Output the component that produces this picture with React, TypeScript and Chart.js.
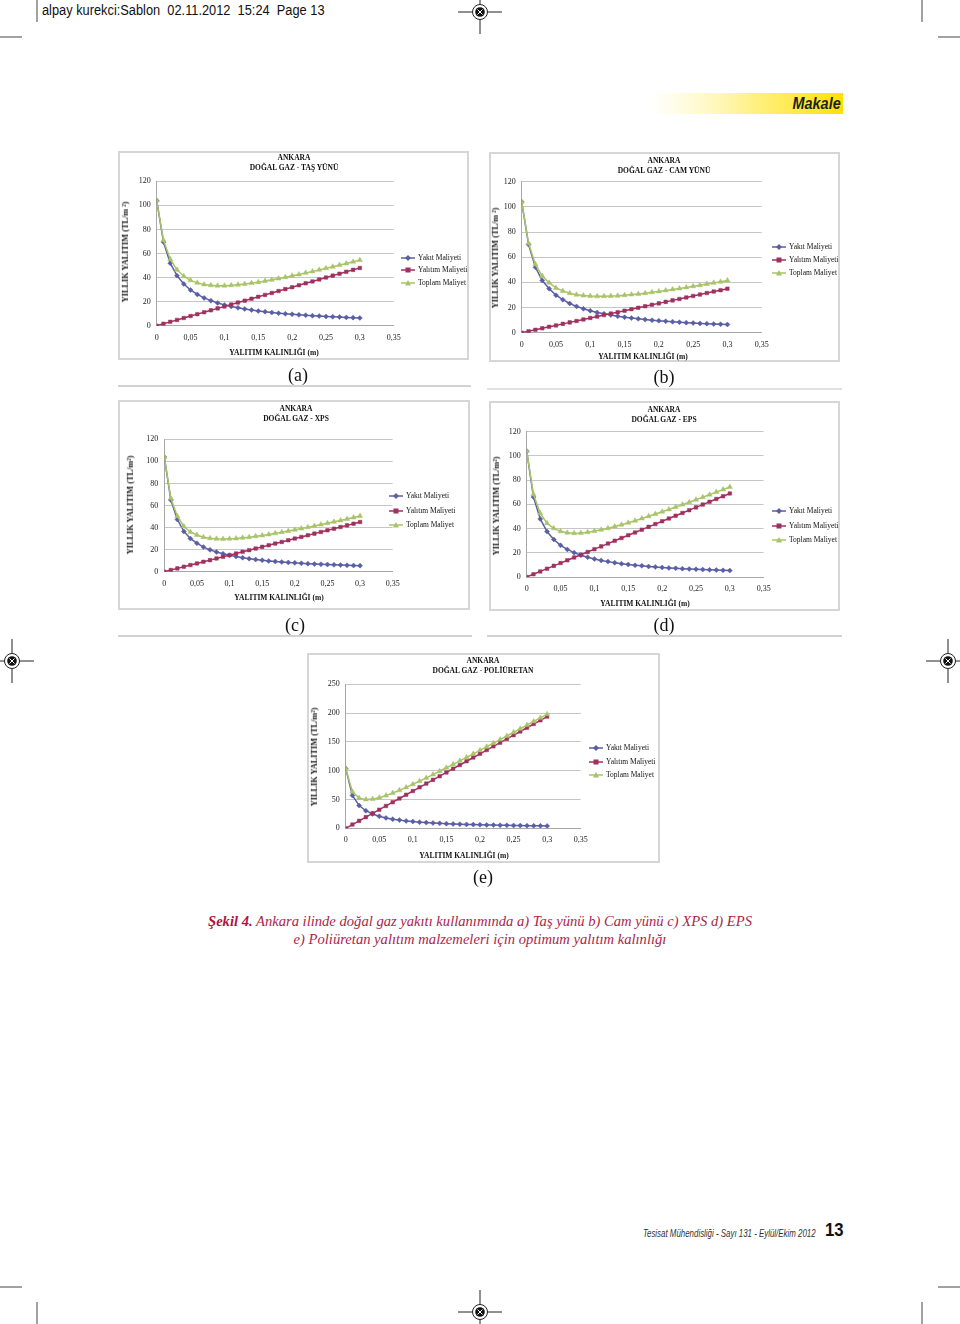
import React, { useEffect, useRef } from "react";
import { Chart, registerables } from "chart.js";
Chart.register(...registerables);

// ---------- DATA ----------
const thickness = [0, 0.01, 0.02, 0.03, 0.04, 0.05, 0.06, 0.07, 0.08, 0.09, 0.1, 0.11, 0.12, 0.13, 0.14, 0.15, 0.16, 0.17, 0.18, 0.19, 0.2, 0.21, 0.22, 0.23, 0.24, 0.25, 0.26, 0.27, 0.28, 0.29, 0.3];
const xTickValues = [0, 0.05, 0.1, 0.15, 0.2, 0.25, 0.3, 0.35];
const xTickLabels = ["0", "0,05", "0,1", "0,15", "0,2", "0,25", "0,3", "0,35"];
const yTicks120 = [0, 20, 40, 60, 80, 100, 120];
const yTicks250 = [0, 50, 100, 150, 200, 250];
const seriesNames = ["Yakıt Maliyeti", "Yalıtım Maliyeti", "Toplam Maliyet"];

// (a) Taş yünü
const aYakit = [104, 69.5, 52, 41.6, 34.7, 29.7, 26, 23.1, 20.8, 18.9, 17.3, 16, 14.9, 13.9, 13, 12.2, 11.6, 10.9, 10.4, 9.9, 9.5, 9, 8.7, 8.3, 8, 7.7, 7.4, 7.2, 6.9, 6.7, 6.5];
const aYalitim = [0, 1.6, 3.2, 4.8, 6.4, 8, 9.6, 11.2, 12.8, 14.4, 16, 17.6, 19.2, 20.8, 22.4, 24, 25.6, 27.2, 28.8, 30.4, 32, 33.6, 35.2, 36.8, 38.4, 40, 41.6, 43.2, 44.8, 46.4, 48];
const aToplam = [104, 71.1, 55.2, 46.4, 41.1, 37.7, 35.6, 34.3, 33.6, 33.3, 33.3, 33.6, 34.1, 34.7, 35.4, 36.2, 37.2, 38.1, 39.2, 40.3, 41.5, 42.6, 43.9, 45.1, 46.4, 47.7, 49, 50.4, 51.7, 53.1, 54.5];
// (b) Cam yünü
const bYakit = [104, 70, 52, 41.5, 35, 29.8, 26.2, 23.2, 20.9, 19, 17.4, 16.1, 15, 14, 13.1, 12.3, 11.6, 11, 10.4, 9.9, 9.5, 9.1, 8.7, 8.3, 8, 7.7, 7.4, 7.2, 6.9, 6.7, 6.5];
const bYalitim = [0, 1.2, 2.3, 3.5, 4.7, 5.8, 7, 8.2, 9.3, 10.5, 11.7, 12.8, 14, 15.2, 16.3, 17.5, 18.7, 19.8, 21, 22.2, 23.3, 24.5, 25.7, 26.8, 28, 29.2, 30.3, 31.5, 32.7, 33.8, 35];
const bToplam = [104, 71.2, 54.3, 45, 39.7, 35.6, 33.2, 31.4, 30.2, 29.5, 29.1, 28.9, 29, 29.2, 29.4, 29.8, 30.3, 30.8, 31.4, 32.1, 32.8, 33.6, 34.4, 35.1, 36, 36.9, 37.7, 38.7, 39.6, 40.5, 41.5];
// (c) XPS
const cYakit = [104, 65, 47.3, 36.5, 30, 25.8, 22.3, 19.8, 17.8, 16.2, 14.9, 13.7, 12.7, 11.8, 11.1, 10.4, 9.8, 9.3, 8.8, 8.4, 8, 7.6, 7.3, 7, 6.7, 6.5, 6.2, 6, 5.8, 5.6, 5.5];
const cYalitim = [0, 1.5, 3, 4.5, 6, 7.5, 9, 10.5, 12, 13.5, 15, 16.5, 18, 19.5, 21, 22.5, 24, 25.5, 27, 28.5, 30, 31.5, 33, 34.5, 36, 37.5, 39, 40.5, 42, 43.5, 45];
const cToplam = [104, 66.5, 50.3, 41, 36, 33.3, 31.3, 30.3, 29.8, 29.7, 29.9, 30.2, 30.7, 31.3, 32.1, 32.9, 33.8, 34.8, 35.8, 36.9, 38, 39.1, 40.3, 41.5, 42.7, 44, 45.2, 46.5, 47.8, 49.1, 50.5];
// (d) EPS
const dYakit = [104, 66, 48, 37.5, 31, 26.2, 22.8, 20.1, 18, 16.3, 14.9, 13.7, 12.7, 11.8, 11, 10.3, 9.7, 9.2, 8.7, 8.3, 7.9, 7.5, 7.2, 6.9, 6.6, 6.4, 6.1, 5.9, 5.7, 5.5, 5.3];
const dYalitim = [0, 2.3, 4.6, 6.9, 9.2, 11.5, 13.8, 16.1, 18.4, 20.7, 23, 25.3, 27.6, 29.9, 32.2, 34.5, 36.8, 39.1, 41.4, 43.7, 46, 48.3, 50.6, 52.9, 55.2, 57.5, 59.8, 62.1, 64.4, 66.7, 69];
const dToplam = [104, 68.3, 52.6, 44.4, 40.2, 37.7, 36.6, 36.2, 36.4, 37, 37.9, 39, 40.3, 41.7, 43.2, 44.8, 46.5, 48.3, 50.1, 52, 53.9, 55.8, 57.8, 59.8, 61.8, 63.9, 65.9, 68, 70.1, 72.2, 74.3];
// (e) Poliüretan
const eYakit = [104, 57, 39.5, 30.5, 24.8, 20.9, 18, 15.9, 14.2, 12.8, 11.7, 10.7, 9.9, 9.2, 8.6, 8.1, 7.6, 7.2, 6.8, 6.4, 6.1, 5.8, 5.6, 5.3, 5.1, 4.9, 4.7, 4.6, 4.4, 4.3, 4.1];
const eYalitim = [0, 6.5, 12.9, 19.4, 25.9, 32.3, 38.8, 45.3, 51.7, 58.2, 64.7, 71.1, 77.6, 84.1, 90.5, 97, 103.5, 109.9, 116.4, 122.9, 129.3, 135.8, 142.3, 148.7, 155.2, 161.7, 168.1, 174.6, 181.1, 187.5, 194];
const eToplam = [104, 63.5, 52.4, 49.9, 50.7, 53.2, 56.8, 61.2, 65.9, 71, 76.4, 81.8, 87.5, 93.3, 99.1, 105.1, 111.1, 117.1, 123.2, 129.3, 135.4, 141.6, 147.9, 154, 160.3, 166.6, 172.8, 179.2, 185.5, 191.8, 198.1];

// ---------- STYLE / LAYOUT ----------
const COLORS = ["#5a5ea5", "#a0305f", "#a9c468"];
const POINT_STYLES = ["rectRot", "rect", "triangle"];
const SERIF = "'Liberation Serif', 'Times New Roman', serif";
const SANS = "'Liberation Sans', Arial, Helvetica, sans-serif";

const panels = [
  { key: "a", title: "DOĞAL GAZ - TAŞ YÜNÜ", data: [aYakit, aYalitim, aToplam], yTicks: yTicks120, yTitle: "YILLIK YALITIM (TL/m ²)",
    box: [118, 151, 351, 209], plot: [156.7, 393.7, 181.3, 325.7], titleC: [294, 158], yTitleC: [126, 252], xTitleC: [274, 353], legend: [401, 257.5, 12.5], label: [298, 375] },
  { key: "b", title: "DOĞAL GAZ - CAM YÜNÜ", data: [bYakit, bYalitim, bToplam], yTicks: yTicks120, yTitle: "YILLIK YALITIM (TL/m ²)",
    box: [489, 152, 351, 210], plot: [521.7, 761.7, 181.7, 332.7], titleC: [664, 161], yTitleC: [496, 258], xTitleC: [643, 357], legend: [772, 247, 13], label: [664, 377] },
  { key: "c", title: "DOĞAL GAZ - XPS", data: [cYakit, cYalitim, cToplam], yTicks: yTicks120, yTitle: "YILLIK YALITIM (TL/m²)",
    box: [118, 400, 352, 210], plot: [164.3, 392.7, 439.3, 571.7], titleC: [296, 409], yTitleC: [131, 505], xTitleC: [279, 598], legend: [389, 496, 14.5], label: [295, 625] },
  { key: "d", title: "DOĞAL GAZ - EPS", data: [dYakit, dYalitim, dToplam], yTicks: yTicks120, yTitle: "YILLIK YALITIM (TL/m²)",
    box: [489, 401, 351, 210], plot: [526.7, 763.7, 431.7, 577], titleC: [664, 409.5], yTitleC: [497, 506], xTitleC: [645, 604], legend: [772, 511, 14.5], label: [664, 625] },
  { key: "e", title: "DOĞAL GAZ - POLİÜRETAN", data: [eYakit, eYalitim, eToplam], yTicks: yTicks250, yTitle: "YILLIK YALITIM (TL/m²)",
    box: [307, 653, 353, 210], plot: [345.7, 580.7, 684.3, 828.3], titleC: [483, 661], yTitleC: [315, 757], xTitleC: [464, 856], legend: [589, 748, 13.5], label: [483, 877] },
];

const abs = (x: number, y: number, extra: any = {}) => ({ position: "absolute" as const, left: x, top: y, ...extra });
const centered = (x: number, y: number, extra: any = {}) => ({
  position: "absolute" as const, left: x, top: y, transform: "translate(-50%, -50%)", whiteSpace: "nowrap" as const, lineHeight: 1, ...extra,
});

function Panel({ p }: { p: any }) {
  const ref = useRef<HTMLCanvasElement>(null);
  const [bx, by, bw, bh] = p.box;
  const [pl, pr, pt, pb] = p.plot;
  useEffect(() => {
    const yW = 30, xH = 22;
    const yTicks: number[] = p.yTicks;
    const tickFont = { family: SERIF, size: 8 };
    const chart = new Chart(ref.current as HTMLCanvasElement, {
      type: "line",
      data: {
        datasets: seriesNames.map((name, si) => ({
          label: name,
          data: thickness.map((x, i) => ({ x, y: p.data[si][i] })),
          borderColor: COLORS[si],
          backgroundColor: COLORS[si],
          borderWidth: 1.5,
          pointStyle: POINT_STYLES[si],
          pointRadius: si === 2 ? 3 : 2.5,
          pointBorderWidth: 0.5,
          tension: 0,
          order: 2 - si,
        })),
      },
      options: {
        animation: false,
        responsive: false,
        maintainAspectRatio: false,
        events: [],
        layout: { padding: { left: pl - bx - yW, right: bx + bw - pr, top: pt - by, bottom: by + bh - pb - xH } },
        plugins: { legend: { display: false }, tooltip: { enabled: false }, title: { display: false } },
        scales: {
          x: {
            type: "linear", min: 0, max: 0.35,
            afterBuildTicks: (s: any) => { s.ticks = xTickValues.map((v) => ({ value: v })); },
            afterFit: (s: any) => { s.height = xH; },
            ticks: { callback: (_v: any, i: number) => xTickLabels[i], font: tickFont, color: "#222", padding: 7, maxRotation: 0, autoSkip: false },
            grid: { color: "rgba(0,0,0,0)", drawTicks: false },
            border: { display: true, color: "#a8a8a8", width: 1 },
          },
          y: {
            type: "linear", min: yTicks[0], max: yTicks[yTicks.length - 1],
            afterBuildTicks: (s: any) => { s.ticks = yTicks.map((v) => ({ value: v })); },
            afterFit: (s: any) => { s.width = yW; },
            ticks: { callback: (v: any) => String(v), font: tickFont, color: "#222", padding: 6, autoSkip: false },
            grid: { color: "#c6c6c6", lineWidth: 1, drawTicks: false },
            border: { display: true, color: "#a8a8a8", width: 1 },
          },
        },
      },
    });
    return () => chart.destroy();
  }, []);

  const bold = { fontFamily: SERIF, fontWeight: 700, fontSize: 7.5, color: "#111" };
  const [lx, ly, ls] = p.legend;
  return (
    <>
      <div style={abs(bx, by, { width: bw, height: bh, boxSizing: "border-box", border: "2px solid #d6d6d6" })} />
      <canvas ref={ref} width={bw} height={bh} style={abs(bx, by, { width: bw, height: bh })} />
      <div style={centered(p.titleC[0], p.titleC[1], bold)}>ANKARA</div>
      <div style={centered(p.titleC[0], p.titleC[1] + 10, bold)}>{p.title}</div>
      <div style={centered(p.xTitleC[0], p.xTitleC[1], bold)}>YALITIM KALINLIĞI (m)</div>
      <div style={centered(p.yTitleC[0], p.yTitleC[1], { ...bold, fontSize: 8.3, transform: "translate(-50%, -50%) rotate(-90deg)" })}>{p.yTitle}</div>
      {seriesNames.map((name, i) => (
        <div key={name} style={abs(lx, ly + i * ls - 5, { height: 10, display: "flex", alignItems: "center", whiteSpace: "nowrap" })}>
          <svg width={14} height={10} style={{ display: "block" }}>
            <line x1={0} y1={5} x2={14} y2={5} stroke={COLORS[i]} strokeWidth={1.5} />
            {i === 0 && <polygon points="7,2 10,5 7,8 4,5" fill={COLORS[i]} />}
            {i === 1 && <rect x={4.5} y={2.5} width={5} height={5} fill={COLORS[i]} />}
            {i === 2 && <polygon points="7,2 10,7.5 4,7.5" fill={COLORS[i]} />}
          </svg>
          <span style={{ fontFamily: SERIF, fontSize: 7.5, color: "#111", marginLeft: 3, lineHeight: 1 }}>{name}</span>
        </div>
      ))}
      <div style={centered(p.label[0], p.label[1], { fontFamily: SERIF, fontSize: 18, color: "#111" })}>({p.key})</div>
    </>
  );
}

function RegMark({ x, y }: { x: number; y: number }) {
  return (
    <g>
      <line x1={x - 22} y1={y} x2={x + 22} y2={y} stroke="#222" strokeWidth={1} />
      <line x1={x} y1={y - 22} x2={x} y2={y + 22} stroke="#222" strokeWidth={1} />
      <circle cx={x} cy={y} r={7.5} fill="#fff" stroke="#222" strokeWidth={1} />
      <circle cx={x} cy={y} r={4.8} fill="#111" />
      <line x1={x - 2.5} y1={y - 2.5} x2={x + 2.5} y2={y + 2.5} stroke="#fff" strokeWidth={1} />
      <line x1={x - 2.5} y1={y + 2.5} x2={x + 2.5} y2={y - 2.5} stroke="#fff" strokeWidth={1} />
    </g>
  );
}

export default function App() {
  const caption = "#ad1e4a";
  return (
    <div style={{ position: "absolute", left: 0, top: 0, width: 960, height: 1324, overflow: "hidden", background: "#fff" }}>
      <svg width={960} height={1324} style={{ position: "absolute", left: 0, top: 0 }}>
        <defs>
          <linearGradient id="mk" x1="0" x2="1" y1="0" y2="0">
            <stop offset="0" stopColor="#fff59a" stopOpacity={0} />
            <stop offset="0.55" stopColor="#ffec60" stopOpacity={0.8} />
            <stop offset="1" stopColor="#ffe100" />
          </linearGradient>
        </defs>
        {/* crop marks */}
        <line x1={37} y1={0} x2={37} y2={22} stroke="#444" />
        <line x1={922} y1={0} x2={922} y2={22} stroke="#444" />
        <line x1={0} y1={37} x2={22} y2={37} stroke="#444" />
        <line x1={938} y1={37} x2={960} y2={37} stroke="#444" />
        <line x1={37} y1={1302} x2={37} y2={1324} stroke="#444" />
        <line x1={922} y1={1302} x2={922} y2={1324} stroke="#444" />
        <line x1={0} y1={1287} x2={22} y2={1287} stroke="#444" />
        <line x1={938} y1={1287} x2={960} y2={1287} stroke="#444" />
        <RegMark x={480} y={12} />
        <RegMark x={480} y={1312} />
        <RegMark x={12} y={661} />
        <RegMark x={948} y={661} />
        {/* Makale banner */}
        <rect x={650} y={93} width={193} height={21} fill="url(#mk)" />
        {/* separators */}
        <line x1={118} y1={386} x2={471} y2={386} stroke="#d2d2d2" strokeWidth={2} />
        <line x1={487} y1={389} x2={842} y2={389} stroke="#e0e0e0" strokeWidth={2} />
        <line x1={118} y1={636} x2={472} y2={636} stroke="#d2d2d2" strokeWidth={2} />
        <line x1={487} y1={636} x2={842} y2={636} stroke="#d2d2d2" strokeWidth={2} />
      </svg>

      <div style={abs(42, 3, { fontFamily: SANS, fontSize: 14, color: "#111", whiteSpace: "pre", lineHeight: "15px", transform: "scaleX(0.915)", transformOrigin: "left top" })}>
        alpay kurekci:Sablon  02.11.2012  15:24  Page 13
      </div>
      <div style={{ position: "absolute", right: 960 - 841, top: 94, fontFamily: SANS, fontWeight: 700, fontStyle: "italic", fontSize: 17, color: "#231f20", lineHeight: "19px", transform: "scaleX(0.85)", transformOrigin: "right top" }}>
        Makale
      </div>

      {panels.map((p) => <Panel key={p.key} p={p} />)}

      <div style={{ position: "absolute", left: 0, width: 960, top: 912, textAlign: "center", fontFamily: SERIF, fontStyle: "italic", fontSize: 14.6, lineHeight: "18px", color: caption }}>
        <div><b style={{ color: "#b3123f" }}>Şekil 4.</b> Ankara ilinde doğal gaz yakıtı kullanımında a) Taş yünü b) Cam yünü c) XPS d) EPS</div>
        <div>e) Poliüretan yalıtım malzemeleri için optimum yalıtım kalınlığı</div>
      </div>

      <div style={{ position: "absolute", right: 960 - 816, top: 1228, fontFamily: SANS, fontStyle: "italic", fontSize: 10, color: "#333", whiteSpace: "nowrap", lineHeight: "11px", transform: "scaleX(0.79)", transformOrigin: "right top" }}>
        Tesisat Mühendisliği - Sayı 131 - Eylül/Ekim 2012
      </div>
      <div style={{ position: "absolute", left: 825, top: 1220, fontFamily: SANS, fontWeight: 700, fontSize: 19, color: "#111", lineHeight: "19px", transform: "scaleX(0.88)", transformOrigin: "left top" }}>13</div>
    </div>
  );
}
